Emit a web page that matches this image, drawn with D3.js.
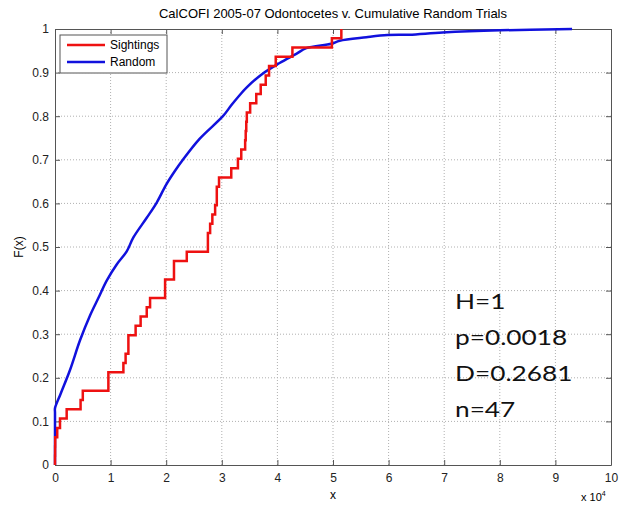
<!DOCTYPE html>
<html>
<head>
<meta charset="utf-8">
<script src="https://d3js.org/d3.v7.min.js"></script>
<style>
body { margin: 0; background: #fff; }
text { font-family: "Liberation Sans", Arial, sans-serif; }
</style>
</head>
<body>
<div id="chart"></div>
<script>
// sighting distances (x)
var sightings = [0, 20, 40, 400, 900, 2100, 4600, 5000, 9600, 9600,
	12300, 12700, 13200, 13200, 14500, 15400, 16500, 17100, 19800, 19800,
	21400, 21400, 23700, 27500, 27500, 27900, 28300, 28800, 29100, 29100,
	29500, 31700, 32900, 33500, 34200, 34300, 34400, 34500, 35100, 36200,
	37000, 37900, 38500, 39700, 42700, 49800, 51500];

// cumulative random trials curve (blue)
var randomX = [0, 0, 0, 1000, 2700, 4500, 6300, 7800, 9300, 11100, 12900, 14100,
	16500, 18300, 20000, 21500, 23000, 26000, 30200, 31700, 33200, 34400,
	37400, 40400, 43400, 45200, 49700, 51200, 56000, 59800, 63700, 69700,
	80000, 93000];
var randomF = [0, 0.12, 0.13, 0.163, 0.218, 0.286, 0.343, 0.383, 0.423, 0.46, 0.49, 0.522,
	0.567, 0.602, 0.643, 0.673, 0.700, 0.748, 0.80, 0.825, 0.848, 0.865,
	0.898, 0.922, 0.943, 0.956, 0.966, 0.973, 0.981, 0.986, 0.987, 0.992,
	0.997, 1.0];

var xTicks = d3.range(0, 100001, 10000);
var yTicks = d3.range(0, 1.01, 0.1);
var stats = ['H=1', 'p=0.0018', 'D=0.2681', 'n=47'];
var legendNames = ['Sightings', 'Random'];
var colors = ['#ee1111', '#1111dd'];

var width = 629, height = 508;
var margin = {top: 29, right: 18, bottom: 43, left: 55};
var w = width - margin.left - margin.right,
	h = height - margin.top - margin.bottom;

var svg = d3.select('#chart').append('svg')
	.attr('width', width)
	.attr('height', height);

svg.append('text')
	.attr('x', margin.left + w / 2)
	.attr('y', 18)
	.attr('text-anchor', 'middle')
	.style('font-size', '13px')
	.text('CalCOFI 2005-07 Odontocetes v. Cumulative Random Trials');

var g = svg.append('g')
	.attr('transform', 'translate(' + margin.left + ',' + margin.top + ')');

var x = d3.scaleLinear().domain([0, 100000]).range([0, w]);
var y = d3.scaleLinear().domain([0, 1]).range([h, 0]);

// dotted grid
g.selectAll('.gx').data(xTicks.slice(1, -1)).enter().append('line')
	.attr('x1', d => x(d)).attr('x2', d => x(d))
	.attr('y1', 0).attr('y2', h)
	.attr('stroke', '#b0b0b0').attr('stroke-dasharray', '1,2');
g.selectAll('.gy').data(yTicks.slice(1, -1)).enter().append('line')
	.attr('y1', d => y(d)).attr('y2', d => y(d))
	.attr('x1', 0).attr('x2', w)
	.attr('stroke', '#b0b0b0').attr('stroke-dasharray', '1,2');

// axes, ticks inward
var xAxis = g.append('g').attr('transform', 'translate(0,' + h + ')')
	.call(d3.axisBottom(x).tickValues(xTicks).tickSizeInner(-5).tickSizeOuter(0).tickPadding(8)
		.tickFormat(d => d / 10000));
var xAxisTop = g.append('g')
	.call(d3.axisTop(x).tickValues(xTicks).tickSizeInner(-5).tickSizeOuter(0).tickFormat(''));
var yAxis = g.append('g')
	.call(d3.axisLeft(y).tickValues(yTicks).tickSizeInner(-5).tickSizeOuter(0).tickPadding(6)
		.tickFormat(d => d3.format('.1~f')(d)));
var yAxisRight = g.append('g').attr('transform', 'translate(' + w + ',0)')
	.call(d3.axisRight(y).tickValues(yTicks).tickSizeInner(-5).tickSizeOuter(0).tickFormat(''));

[xAxis, xAxisTop, yAxis, yAxisRight].forEach(function(a) {
	a.selectAll('path, line').attr('stroke', '#555');
	a.selectAll('text').style('font-size', '12px').attr('fill', '#222')
		.style('font-family', '"Liberation Sans", Arial, sans-serif');
});

// ECDF of the sightings
var n = sightings.length;
var sorted = sightings.slice().sort((a, b) => a - b);
var ecdf = [[sorted[0], 0]].concat(sorted.map((v, i) => [v, (i + 1) / n]));

var randomPts = randomX.map((v, i) => [v, randomF[i]]);

g.append('path')
	.datum(randomPts)
	.attr('fill', 'none')
	.attr('stroke', colors[1])
	.attr('stroke-width', 2.5)
	.attr('d', d3.line().x(d => x(d[0])).y(d => y(d[1])).curve(d3.curveCatmullRom.alpha(0.5)));

g.append('path')
	.datum(ecdf)
	.attr('fill', 'none')
	.attr('stroke', colors[0])
	.attr('stroke-width', 2.5)
	.attr('d', d3.line().x(d => x(d[0])).y(d => y(d[1])).curve(d3.curveStepAfter));

// legend
var leg = svg.append('g').attr('transform', 'translate(60,35)');
leg.append('rect').attr('width', 107).attr('height', 38)
	.attr('fill', '#fff').attr('stroke', '#555');
legendNames.forEach(function(name, i) {
	leg.append('line').attr('x1', 7).attr('x2', 45)
		.attr('y1', 10 + i * 17).attr('y2', 10 + i * 17)
		.attr('stroke', colors[i]).attr('stroke-width', 2.5);
	leg.append('text').attr('x', 50).attr('y', 14 + i * 17)
		.style('font-size', '12px').text(name);
});

// axis titles
svg.append('text')
	.attr('x', margin.left + w / 2).attr('y', 499)
	.attr('text-anchor', 'middle').style('font-size', '12px').text('x');
svg.append('text')
	.attr('transform', 'translate(23,' + (margin.top + h / 2) + ') rotate(-90)')
	.attr('text-anchor', 'middle').style('font-size', '12px').text('F(x)');
var mult = svg.append('text').attr('x', 581).attr('y', 501).style('font-size', '11px');
mult.append('tspan').text('x 10');
mult.append('tspan').attr('dy', -5).style('font-size', '7px').text('4');

// test statistics
var st = svg.append('g').attr('transform', 'translate(455,0) scale(1.25,1)');
stats.forEach(function(s, i) {
	st.append('text').attr('x', 0).attr('y', 309 + i * 36)
		.style('font-family', 'Lato, "Open Sans", sans-serif')
		.style('font-size', '21px').attr('fill', '#111').text(s);
});
</script>
</body>
</html>
